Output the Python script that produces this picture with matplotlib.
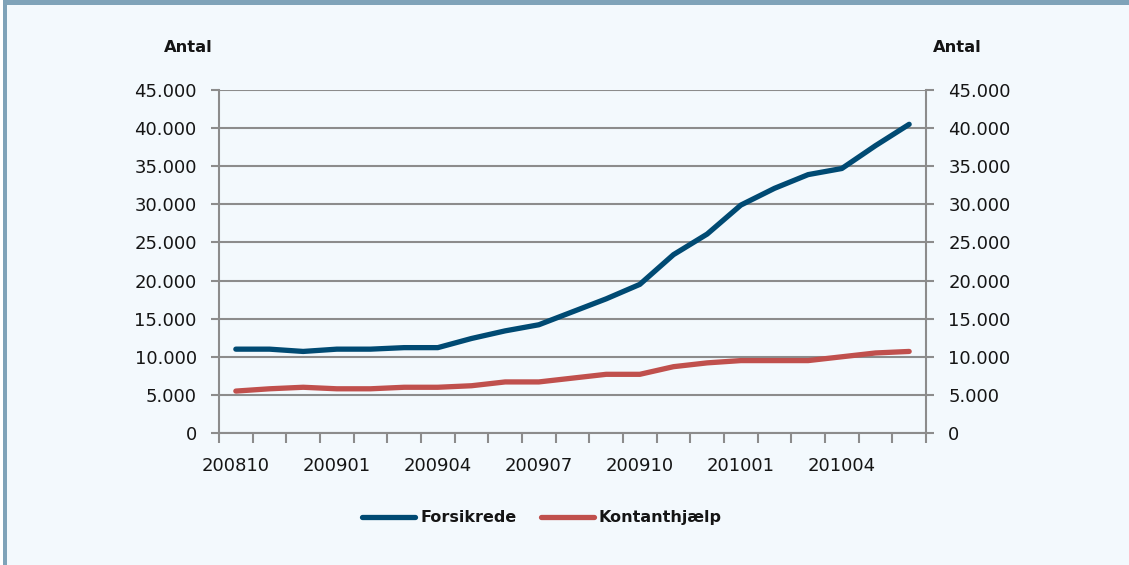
import matplotlib
matplotlib.use("Agg")
import matplotlib.pyplot as plt
from matplotlib.patches import Rectangle
from matplotlib.lines import Line2D
from matplotlib.ticker import FuncFormatter, FixedLocator

plt.rcParams['font.family'] = ['DejaVu Sans']

# data
months = ['200810', '200811', '200812', '200901', '200902', '200903', '200904',
          '200905', '200906', '200907', '200908', '200909', '200910', '200911',
          '200912', '201001', '201002', '201003', '201004', '201005', '201006']
forsikrede = [11000, 11000, 10700, 11000, 11000, 11200, 11200, 12400, 13400, 14200,
              15900, 17600, 19500, 23400, 26100, 29900, 32100, 33900, 34700, 37700, 40500]
kontanthjaelp = [5500, 5800, 6000, 5800, 5800, 6000, 6000, 6200, 6700, 6700,
                 7200, 7700, 7700, 8700, 9200, 9500, 9500, 9500, 10000, 10500, 10700]
series_names = ['Forsikrede', 'Kontanthjælp']
series_colors = ['#004a73', '#c0504d']
yticks = [0, 5000, 10000, 15000, 20000, 25000, 30000, 35000, 40000, 45000]

bg = '#f3f9fd'
band = '#7fa3b9'
grid_c = '#8c8c8c'
txt = '#151515'
W, H = 1129, 565

fig = plt.figure(figsize=(11.29, 5.65), dpi=100)
fig.patch.set_facecolor('white')
# panel background + frame
fig.add_artist(Rectangle((7/W, 0), 1, 1 - 5/H, transform=fig.transFigure,
                         facecolor=bg, edgecolor='none', zorder=0))
fig.add_artist(Rectangle((3/W, 0), 4/W, 1, transform=fig.transFigure,
                         facecolor=band, edgecolor='none', zorder=0))
fig.add_artist(Rectangle((3/W, 1 - 5/H), 1, 5/H, transform=fig.transFigure,
                         facecolor=band, edgecolor='none', zorder=0))

ax = fig.add_axes([219/W, 1 - 433/H, (926 - 219)/W, (433 - 90)/H])
ax.set_facecolor('none')
x = list(range(len(months)))
for vals, c in zip([forsikrede, kontanthjaelp], series_colors):
    ax.plot(x, vals, color=c, lw=3.8, solid_capstyle='round',
            solid_joinstyle='round', zorder=3)

ax.set_xlim(-0.5, len(months) - 0.5)
ax.set_ylim(0, 45000)
ax.set_yticks(yticks)
fmt = FuncFormatter(lambda v, p: f"{int(v):,}".replace(',', '.'))
ax.yaxis.set_major_formatter(fmt)
ax.grid(axis='y', color=grid_c, lw=1.5, zorder=1)
for s in ['left', 'bottom']:
    ax.spines[s].set_color(grid_c)
    ax.spines[s].set_linewidth(1.5)
ax.spines['top'].set_visible(False)
ax.spines['right'].set_visible(False)

ax.xaxis.set_major_locator(FixedLocator([i - 0.5 for i in range(len(months) + 1)]))
ax.xaxis.set_major_formatter(FuncFormatter(lambda v, p: ''))
ax.xaxis.set_minor_locator(FixedLocator(x[::3]))
ax.set_xticklabels([m for m in months[::3]], minor=True)
ax.tick_params(axis='x', which='major', length=7, width=1.5, color=grid_c, direction='out')
ax.tick_params(axis='x', which='minor', length=0, pad=17, labelsize=13, labelcolor=txt)
ax.tick_params(axis='y', length=6, width=1.5, color=grid_c, labelsize=13,
               labelcolor=txt, pad=10)

ax2 = ax.twinx()
ax2.set_ylim(0, 45000)
ax2.set_yticks(yticks)
ax2.yaxis.set_major_formatter(fmt)
for s in ['left', 'bottom', 'top']:
    ax2.spines[s].set_visible(False)
ax2.spines['right'].set_color(grid_c)
ax2.spines['right'].set_linewidth(1.5)
ax2.tick_params(axis='y', length=6, width=1.5, color=grid_c, labelsize=13,
                labelcolor=txt, pad=10)

fig.text(188/W, 1 - 48/H, 'Antal', ha='center', va='center', fontsize=11.8,
         fontweight='bold', color=txt)
fig.text(957/W, 1 - 48/H, 'Antal', ha='center', va='center', fontsize=11.8,
         fontweight='bold', color=txt)

# legend drawn by hand so both labels share a baseline
for name, c, x0 in zip(series_names, series_colors, [362, 541]):
    fig.add_artist(Line2D([x0/W, (x0 + 53)/W], [1 - 517/H] * 2, transform=fig.transFigure,
                          color=c, lw=3.8, solid_capstyle='round'))
    fig.text((x0 + 58)/W, 1 - 522/H, name, ha='left', va='baseline', fontsize=11.5,
             fontweight='bold', color=txt)

fig.savefig('out.png', dpi=100, facecolor=fig.get_facecolor())
